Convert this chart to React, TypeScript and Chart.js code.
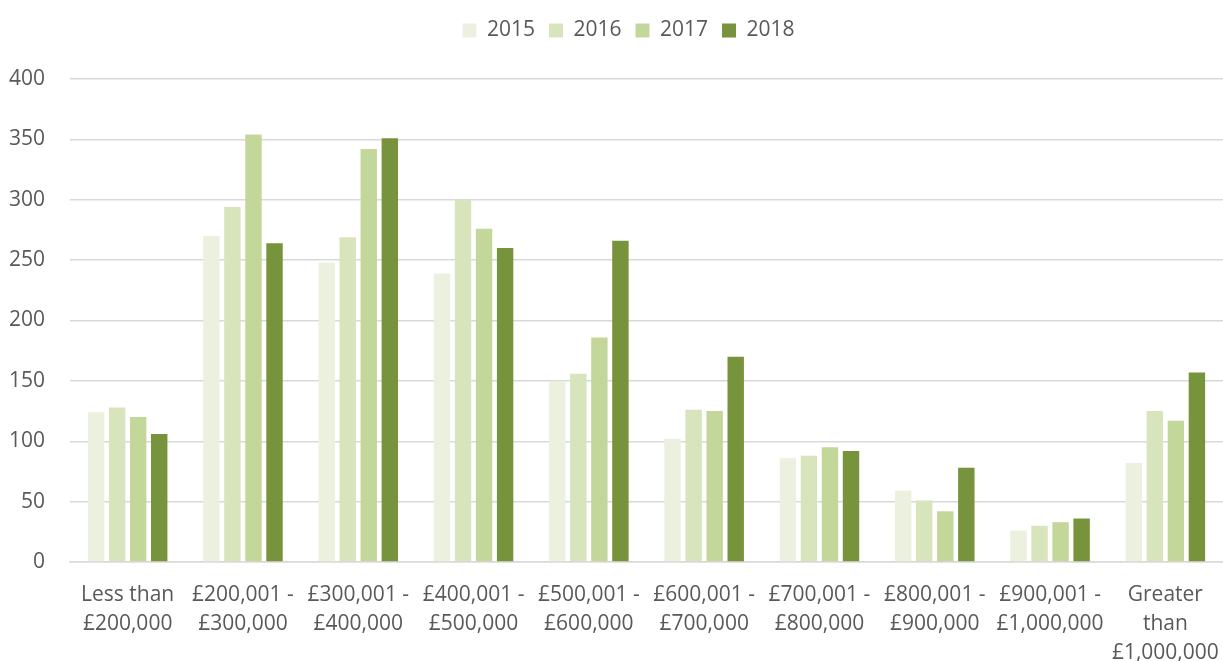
import React, { useEffect, useRef } from "react";
import { Chart, registerables } from "chart.js";

Chart.register(...registerables);

const categories: string[][] = [
  ["Less than", "£200,000"],
  ["£200,001 -", "£300,000"],
  ["£300,001 -", "£400,000"],
  ["£400,001 -", "£500,000"],
  ["£500,001 -", "£600,000"],
  ["£600,001 -", "£700,000"],
  ["£700,001 -", "£800,000"],
  ["£800,001 -", "£900,000"],
  ["£900,001 -", "£1,000,000"],
  ["Greater", "than", "£1,000,000"],
];

const seriesNames = ["2015", "2016", "2017", "2018"];
const values2015 = [124, 270, 248, 239, 150, 102, 86, 59, 26, 82];
const values2016 = [128, 294, 269, 300, 156, 126, 88, 51, 30, 125];
const values2017 = [120, 354, 342, 276, 186, 125, 95, 42, 33, 117];
const values2018 = [106, 264, 351, 260, 266, 170, 92, 78, 36, 157];
const seriesColors = ["#EBF1DE", "#D8E4BC", "#C4D79B", "#77933C"];

const legendSpacer = {
  id: "legendSpacer",
  beforeInit(chart: any) {
    const orig = chart.legend.fit;
    chart.legend.fit = function () {
      orig.call(this);
      this.height += 28;
    };
  },
  afterLayout(chart: any) {
    chart.legend.left += 17;
    chart.legend.right += 17;
  },
};

export default function App() {
  const ref = useRef<HTMLCanvasElement | null>(null);

  useEffect(() => {
    document.body.style.margin = "0";
    const allValues = [values2015, values2016, values2017, values2018];
    const font = "'Open Sans', sans-serif";
    const chart = new Chart(ref.current!, {
      type: "bar",
      data: {
        labels: categories,
        datasets: seriesNames.map((name, i) => ({
          label: name,
          data: allValues[i],
          backgroundColor: seriesColors[i],
          borderWidth: 0,
          categoryPercentage: 0.73,
          barPercentage: 0.78,
        })),
      },
      plugins: [legendSpacer],
      options: {
        animation: false,
        responsive: false,
        maintainAspectRatio: false,
        layout: { padding: { top: 6, right: 0, left: 0, bottom: 0 } },
        plugins: {
          legend: {
            position: "top",
            labels: {
              boxWidth: 14,
              boxHeight: 14,
              padding: 14,
              color: "#595959",
              font: { family: font, size: 21 },
            },
          },
          tooltip: { enabled: false },
        },
        scales: {
          x: {
            afterFit: (s: any) => {
              s.height = 99;
              s.paddingLeft = 0;
              s.paddingRight = 0;
            },
            grid: { display: false, drawTicks: false },
            border: { color: "#D9D9D9", width: 1.5 },
            ticks: {
              color: "#595959",
              font: { family: font, size: 21, lineHeight: 29 / 21 },
              padding: 19,
              maxRotation: 0,
              autoSkip: false,
            },
          },
          y: {
            min: 0,
            max: 400,
            afterFit: (s: any) => {
              s.width = 70;
              s.paddingTop = 0;
              s.paddingBottom = 0;
            },
            grid: { color: "#D9D9D9", lineWidth: 1.5, drawTicks: false },
            border: { display: false },
            ticks: {
              stepSize: 50,
              color: "#595959",
              font: { family: font, size: 21 },
              padding: 25,
            },
          },
        },
      },
    });
    return () => chart.destroy();
  }, []);

  return (
    <div style={{ width: 1223, height: 661 }}>
      <canvas ref={ref} width={1223} height={661} />
    </div>
  );
}
